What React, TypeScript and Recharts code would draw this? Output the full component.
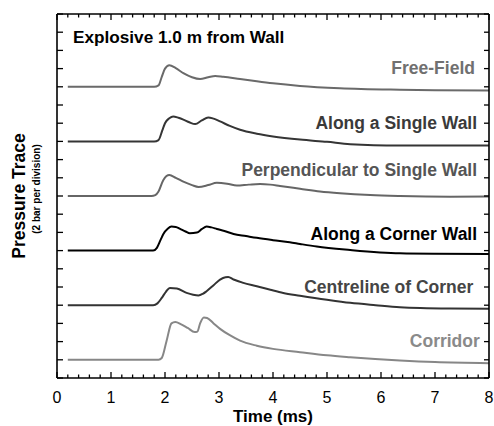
import { Line, LineChart, ReferenceDot, XAxis, YAxis } from "recharts";

// time (ms) and pressure above each trace's own baseline (bar)
const freeFieldTime = [0.2, 1.8, 1.88, 1.94, 2.0, 2.08, 2.2, 2.34, 2.5, 2.65, 2.8, 2.93, 3.08, 3.39, 3.7, 4.0, 4.5, 5.24, 6.35, 7.0, 8.0];
const freeFieldP = [0, 0, 0.15, 1.1, 2.0, 2.38, 2.05, 1.5, 1.05, 0.85, 1.05, 1.2, 1.1, 0.85, 0.6, 0.38, 0.1, -0.15, -0.32, -0.38, -0.42];

const singleWallTime = [0.2, 1.8, 1.88, 1.95, 2.0, 2.08, 2.15, 2.25, 2.34, 2.45, 2.56, 2.68, 2.8, 2.9, 3.02, 3.2, 3.39, 3.7, 4.0, 4.5, 5.0, 5.43, 6.35, 7.0, 8.0];
const singleWallP = [0, 0, 0.15, 1.2, 2.0, 2.55, 2.75, 2.6, 2.4, 2.1, 1.9, 2.3, 2.64, 2.5, 2.2, 1.7, 1.28, 0.85, 0.55, 0.2, -0.05, -0.3, -0.44, -0.45, -0.45];

const perpTime = [0.2, 1.75, 1.82, 1.88, 1.97, 2.08, 2.2, 2.34, 2.5, 2.62, 2.8, 2.96, 3.15, 3.33, 3.55, 3.76, 3.95, 4.13, 4.5, 4.87, 5.24, 5.8, 6.35, 7.28, 8.0];
const perpP = [0, 0, 0.1, 0.5, 1.76, 2.3, 2.0, 1.57, 1.2, 1.0, 1.2, 1.45, 1.35, 1.15, 1.25, 1.32, 1.25, 1.1, 0.8, 0.5, 0.3, 0.1, 0, -0.07, -0.05];

const cornerWallTime = [0.2, 1.78, 1.85, 1.92, 1.97, 2.05, 2.12, 2.2, 2.28, 2.38, 2.46, 2.59, 2.68, 2.77, 2.86, 2.96, 3.1, 3.27, 3.5, 3.7, 4.0, 4.31, 4.5, 4.81, 5.43, 6.35, 7.0, 8.0];
const cornerWallP = [0, 0, 0.3, 1.2, 1.83, 2.4, 2.64, 2.6, 2.38, 2.1, 1.9, 1.98, 2.35, 2.64, 2.55, 2.38, 2.15, 1.83, 1.6, 1.4, 1.15, 0.92, 0.73, 0.44, 0.07, -0.3, -0.35, -0.37];

const centrelineTime = [0.2, 1.78, 1.86, 1.94, 2.02, 2.09, 2.22, 2.4, 2.52, 2.62, 2.7, 2.77, 2.9, 3.02, 3.12, 3.17, 3.27, 3.45, 3.7, 3.95, 4.19, 4.5, 5.0, 5.43, 5.9, 6.35, 7.28, 8.0];
const centrelineP = [0, 0, 0.2, 0.8, 1.5, 1.9, 1.83, 1.35, 1.15, 1.07, 1.25, 1.54, 2.2, 2.82, 3.08, 3.1, 2.82, 2.45, 2.09, 1.7, 1.35, 1.05, 0.6, 0.26, 0.0, -0.22, -0.37, -0.4];

const corridorTime = [0.2, 1.88, 1.94, 2.03, 2.12, 2.19, 2.3, 2.42, 2.55, 2.6, 2.65, 2.72, 2.78, 2.9, 3.02, 3.2, 3.39, 3.7, 4.0, 4.5, 5.0, 5.43, 6.35, 7.0, 8.0];
const corridorP = [0, 0, 0.2, 2.1, 4.0, 4.15, 3.9, 3.5, 3.05, 3.1, 4.0, 4.65, 4.6, 4.0, 3.4, 2.7, 2.1, 1.55, 1.2, 0.84, 0.5, 0.29, -0.07, -0.25, -0.37];

const seriesNames = ["Free-Field", "Along a Single Wall", "Perpendicular to Single Wall", "Along a Corner Wall", "Centreline of Corner", "Corridor"];
const seriesTimes = [freeFieldTime, singleWallTime, perpTime, cornerWallTime, centrelineTime, corridorTime];
const seriesPressures = [freeFieldP, singleWallP, perpP, cornerWallP, centrelineP, corridorP];
const baselines = [32, 26, 20, 14, 8, 2];
const lineColors = ["#6a6a6a", "#353535", "#666666", "#000000", "#333333", "#878787"];
const labelColors = ["#707070", "#3a3a3a", "#555555", "#000000", "#454545", "#8a8a8a"];
// label anchor (right end, vertical centre) in data units
const labelX = [7.74, 7.78, 7.78, 7.78, 7.71, 7.83];
const labelY = [34.1, 28.0, 22.9, 15.9, 10.0, 4.1];

const xTickLabels = ["0", "1", "2", "3", "4", "5", "6", "7", "8"];
const xTicks = Array.from({ length: 41 }, (_, i) => Math.round(i * 2) / 10);
const yTicks = Array.from({ length: 21 }, (_, i) => i * 2);

const FONT = '"Liberation Sans", Arial, Helvetica, sans-serif';

function isMajor(v: number) {
  return Math.abs(v - Math.round(v)) < 1e-6;
}

function BottomTick(props: any) {
  const { x, y, payload } = props;
  const v = payload.value as number;
  const major = isMajor(v);
  return (
    <g>
      <line x1={x} x2={x} y1={y} y2={y - (major ? 6 : 3.5)} stroke="#000" strokeWidth={1.3} />
      {major && (
        <text x={x} y={y + 25} textAnchor="middle" fontSize={16} fontFamily={FONT} fill="#000">
          {xTickLabels[Math.round(v)]}
        </text>
      )}
    </g>
  );
}

function TopTick(props: any) {
  const { x, y, payload } = props;
  const major = isMajor(payload.value);
  return <line x1={x} x2={x} y1={y} y2={y + (major ? 6 : 3.5)} stroke="#000" strokeWidth={1.3} />;
}

function LeftTick(props: any) {
  const { x, y } = props;
  return <line x1={x} x2={x + 6} y1={y} y2={y} stroke="#000" strokeWidth={1.3} />;
}

function RightTick(props: any) {
  const { x, y } = props;
  return <line x1={x} x2={x - 5} y1={y} y2={y} stroke="#000" strokeWidth={1.3} />;
}

function YTitle() {
  return (
    <g fontFamily={FONT} fontWeight={700} fill="#000">
      <text x={25} y={196} transform="rotate(-90, 25, 196)" textAnchor="middle" fontSize={17.5}>
        Pressure Trace
      </text>
      <text x={40} y={189} transform="rotate(-90, 40, 189)" textAnchor="middle" fontSize={10}>
        (2 bar per division)
      </text>
    </g>
  );
}

export default function App() {
  const datasets = seriesTimes.map((times, s) =>
    times.map((t, i) => ({ t, p: baselines[s] + seriesPressures[s][i] }))
  );

  return (
    <div style={{ position: "absolute", left: 0, top: 0, width: 494, height: 426, background: "#fff" }}>
      <LineChart width={494} height={426} margin={{ top: 13, right: 4, bottom: 0, left: 0 }}>
        <XAxis
          dataKey="t"
          type="number"
          domain={[0, 8]}
          ticks={xTicks}
          interval={0}
          height={48}
          tickSize={0}
          tickMargin={0}
          tick={<BottomTick />}
          axisLine={{ stroke: "#000", strokeWidth: 1.6 }}
          allowDataOverflow
          label={{
            value: "Time (ms)",
            position: "insideBottom",
            offset: 4,
            fontSize: 17,
            fontWeight: 700,
            fontFamily: FONT,
            fill: "#000",
          }}
        />
        <XAxis
          xAxisId="top"
          orientation="top"
          dataKey="t"
          type="number"
          domain={[0, 8]}
          ticks={xTicks}
          interval={0}
          height={1}
          tickSize={0}
          tickMargin={0}
          tick={<TopTick />}
          axisLine={{ stroke: "#000", strokeWidth: 1.6 }}
          allowDataOverflow
        />
        <YAxis
          type="number"
          domain={[0, 40]}
          ticks={yTicks}
          interval={0}
          width={57}
          tickSize={0}
          tickMargin={0}
          tick={<LeftTick />}
          axisLine={{ stroke: "#000", strokeWidth: 1.6 }}
          allowDataOverflow
          label={{ content: () => <YTitle /> }}
        />
        <YAxis
          yAxisId="right"
          orientation="right"
          type="number"
          domain={[0, 40]}
          ticks={yTicks}
          interval={0}
          width={1}
          tickSize={0}
          tickMargin={0}
          tick={<RightTick />}
          axisLine={{ stroke: "#000", strokeWidth: 1.6 }}
          allowDataOverflow
        />
        {datasets.map((d, s) => (
          <Line
            key={seriesNames[s]}
            data={d}
            dataKey="p"
            type="monotone"
            stroke={lineColors[s]}
            strokeWidth={2}
            dot={false}
            activeDot={false}
            isAnimationActive={false}
          />
        ))}
        {seriesNames.map((name, s) => (
          <ReferenceDot
            key={"lbl-" + name}
            x={labelX[s]}
            y={labelY[s]}
            r={0}
            fill="none"
            stroke="none"
            label={{
              value: name,
              position: "left",
              offset: 0,
              fontSize: 17.5,
              fontWeight: 700,
              fontFamily: FONT,
              fill: labelColors[s],
            }}
          />
        ))}
        <ReferenceDot
          x={0.296}
          y={37.5}
          r={0}
          fill="none"
          stroke="none"
          label={{
            value: "Explosive 1.0 m from Wall",
            position: "right",
            offset: 0,
            fontSize: 17.2,
            fontWeight: 700,
            fontFamily: FONT,
            fill: "#000",
          }}
        />
      </LineChart>
    </div>
  );
}
